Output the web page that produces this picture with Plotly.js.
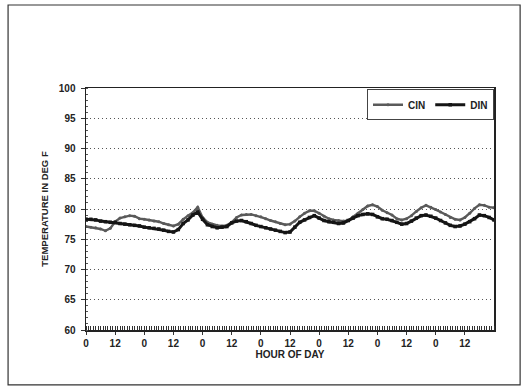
<!DOCTYPE html>
<html>
<head>
<meta charset="utf-8">
<script src="https://cdn.plot.ly/plotly-3.0.1.min.js"></script>
<style>html,body{margin:0;padding:0;background:#fff;}#chart{width:524px;height:387px;}</style>
</head>
<body>
<div id="chart"></div>
<script>
// Hours since start (2-hour readings)
const hours = [0,2,4,6,8,10,12,14,16,18,20,22,24,26,28,30,32,34,36,38,40,42,44,46,48,50,52,54,56,58,60,62,64,66,68,70,72,74,76,78,80,82,84,86,88,90,92,94,96,98,100,102,104,106,108,110,112,114,116,118,120,122,124,126,128,130,132,134,136,138,140,142,144,146,148,150,152,154,156,158,160,162,164,166,168];
const cin = [77.1,77.0,76.9,76.7,76.4,76.8,77.9,78.5,78.7,78.9,78.8,78.4,78.3,78.2,78.0,77.9,77.6,77.4,77.2,77.5,78.3,78.9,79.4,80.3,78.6,77.8,77.5,77.3,77.2,77.3,77.8,78.6,79.0,79.1,79.1,78.9,78.7,78.4,78.1,77.9,77.6,77.4,77.5,78.0,78.7,79.3,79.7,79.7,79.3,78.8,78.4,78.2,78.1,78.0,78.1,78.7,79.3,79.9,80.5,80.7,80.4,79.8,79.4,79.0,78.4,78.2,78.4,78.9,79.6,80.2,80.6,80.3,79.9,79.5,79.1,78.6,78.3,78.2,78.6,79.3,80.1,80.7,80.6,80.3,80.2];
const din = [78.3,78.3,78.2,78.0,77.9,77.8,77.8,77.6,77.5,77.4,77.3,77.2,77.0,76.9,76.8,76.7,76.5,76.3,76.2,76.6,77.6,78.2,79.0,79.5,78.3,77.4,77.1,76.9,77.0,77.1,77.7,78.0,78.1,77.9,77.6,77.3,77.1,76.9,76.7,76.5,76.3,76.1,76.2,77.0,77.8,78.2,78.6,78.9,78.5,78.1,77.9,77.8,77.6,77.7,78.1,78.5,78.9,79.1,79.2,79.1,78.7,78.4,78.3,78.1,77.8,77.5,77.6,78.0,78.5,78.9,79.0,78.8,78.5,78.1,77.7,77.3,77.1,77.2,77.5,77.9,78.4,79.0,78.9,78.6,78.2];
const xTickVals = [0,12,24,36,48,60,72,84,96,108,120,132,144,156];
const xTickText = ["0","12","0","12","0","12","0","12","0","12","0","12","0","12"];
const yTickVals = [60,65,70,75,80,85,90,95,100];

const fontFam = "Liberation Sans, Arial, sans-serif";
const traces = [
  {x: hours, y: cin, name: "CIN", type: "scatter", mode: "lines+markers",
   line: {color: "#5a5a5a", width: 2.4}, marker: {color: "#5a5a5a", size: 3, symbol: "circle"}},
  {x: hours, y: din, name: "DIN", type: "scatter", mode: "lines+markers",
   line: {color: "#151515", width: 3}, marker: {color: "#151515", size: 3.5, symbol: "square"}}
];
const layout = {
  width: 524, height: 387,
  margin: {l: 86, r: 30, t: 88, b: 57},
  paper_bgcolor: "#fff", plot_bgcolor: "#fff",
  font: {family: fontFam, color: "#222", size: 9},
  showlegend: true,
  legend: {orientation: "h", x: 1, xanchor: "right", y: 0.995, yanchor: "top",
    bordercolor: "#444", borderwidth: 1, bgcolor: "#fff",
    font: {family: fontFam, size: 10, color: "#222", weight: "bold"},
    itemwidth: 30, tracegroupgap: 0},
  xaxis: {range: [0, 168], tickmode: "array", tickvals: xTickVals, ticktext: xTickText,
    ticks: "outside", ticklen: 3, tickcolor: "#333", showgrid: false, zeroline: false,
    showline: true, linecolor: "#222", linewidth: 1.5, mirror: true,
    tickfont: {family: fontFam, size: 10, color: "#222", weight: "bold"},
    minor: {dtick: 1, tick0: 0, ticks: "inside", ticklen: 4, tickcolor: "#333", showgrid: false},
    title: {text: "HOUR OF DAY", standoff: 2, font: {family: fontFam, size: 10, color: "#222", weight: "bold"}}},
  yaxis: {range: [60, 100], tickmode: "array", tickvals: yTickVals,
    ticks: "outside", ticklen: 4, tickcolor: "#333", ticklabelstandoff: 3,
    showgrid: true, gridcolor: "#555", griddash: "1px,3px", gridwidth: 1, zeroline: false,
    showline: true, linecolor: "#222", linewidth: 1.5, mirror: true,
    tickfont: {family: fontFam, size: 10, color: "#222", weight: "bold"},
    minor: {dtick: 1, ticks: "inside", ticklen: 2, tickcolor: "#555", showgrid: false},
    title: {text: "TEMPERATURE IN DEG F", standoff: 8, font: {family: fontFam, size: 9.5, color: "#222", weight: "bold"}}},
  shapes: [
    {type: "rect", xref: "paper", yref: "paper", x0: -0.191, x1: 1.064, y0: -0.227, y1: 1.343,
     line: {color: "#333", width: 1.2}, fillcolor: "rgba(0,0,0,0)", layer: "below"}
  ]
};
Plotly.newPlot("chart", traces, layout, {staticPlot: true, displayModeBar: false});
</script>
</body>
</html>
